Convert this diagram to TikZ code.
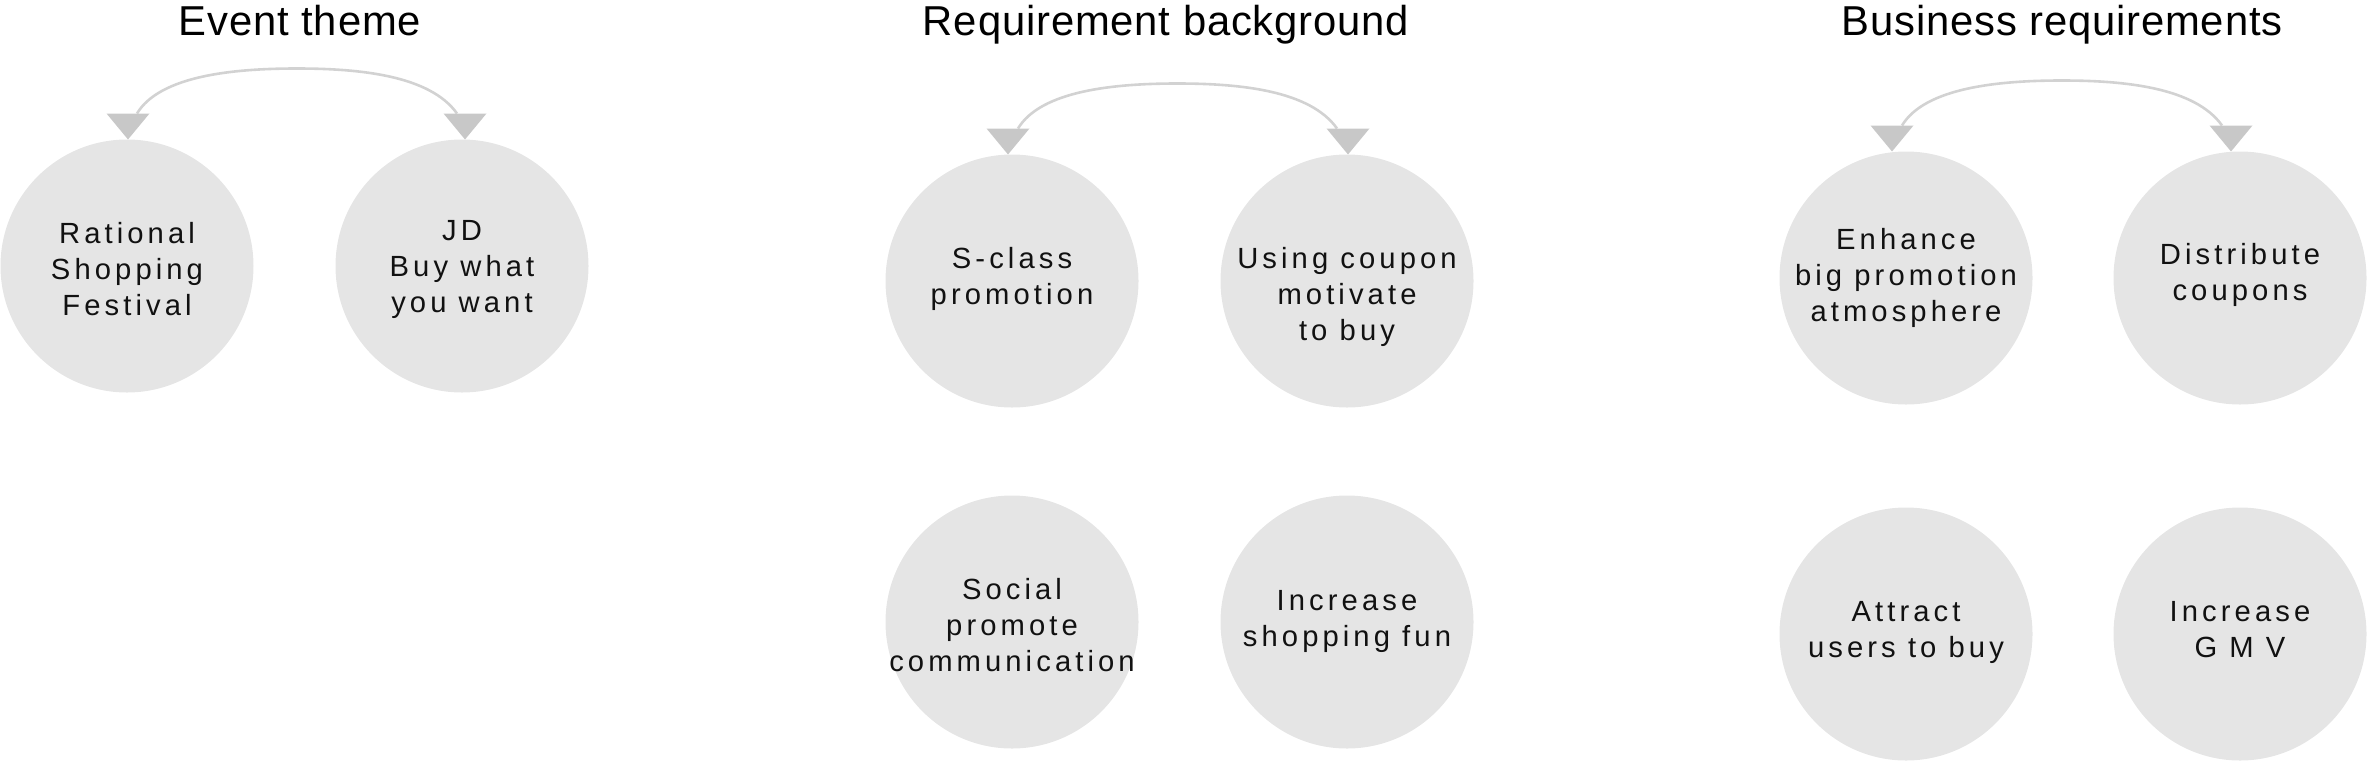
\documentclass[tikz,border=0pt]{standalone}
\usepackage{fontspec}
\setmainfont{Liberation Sans}
\newfontfamily\circfont[LetterSpace=14]{Liberation Sans}
\newfontfamily\titlefont[LetterSpace=2]{Liberation Sans}
\usetikzlibrary{calc}
\definecolor{circfill}{HTML}{E5E5E5}
\definecolor{trifill}{HTML}{C8C8C8}
\definecolor{curvecol}{HTML}{D2D2D2}
\definecolor{inkcol}{HTML}{111111}
\begin{document}
\begin{tikzpicture}[x=0.5pt,y=-0.5pt,
  circ/.style={circle, fill=circfill, minimum size=126.5pt, inner sep=0pt, outer sep=0pt},
  ctxt/.style={align=center, inner sep=0pt, text=inkcol, font=\circfont\fontsize{14.6}{18}\selectfont},
  ttl/.style={anchor=base, inner sep=0pt, text=black, font=\titlefont\fontsize{20.9}{24}\selectfont},
  tri/.style={fill=trifill},
  conn/.style={draw=curvecol, line width=1.3pt}]
\useasboundingbox (0,0) rectangle (2367,761);

% titles
\node[ttl] (T1) at (300,35) {Event theme};
\node[ttl] (T2) at (1166,35) {Requirement background};
\node[ttl] (T3) at (2062,35) {Business requirements};

% circles
\node[circ] (A1) at (127,266) {};
\node[circ] (A2) at (462,266) {};
\node[circ] (B1) at (1012,281) {};
\node[circ] (B2) at (1347,281) {};
\node[circ] (B3) at (1012,622) {};
\node[circ] (B4) at (1347,622) {};
\node[circ] (C1) at (1906,278) {};
\node[circ] (C2) at (2240,278) {};
\node[circ] (C3) at (1906,634) {};
\node[circ] (C4) at (2240,634) {};

% texts
\node[ctxt] (A1t) at ($(A1)+(0,3)$) {Rational\\Shopping\\Festival};
\node[ctxt] (A2t) at ($(A2)+(0,3)$) {JD\\Buy what\\you want};
\node[ctxt] (B1t) at ($(B1)+(0,-2)$) {S-class\\promotion};
\node[ctxt] (B2t) at ($(B2)+(0,16)$) {Using coupon\\motivate\\to buy};
\node[ctxt] (B3t) at ($(B3)+(0,3)$) {Social\\promote\\communication};
\node[ctxt] (B4t) at ($(B4)+(0,-1)$) {Increase\\shopping fun};
\node[ctxt] (C1t) at ($(C1)+(0,0)$) {Enhance\\big promotion\\atmosphere};
\node[ctxt] (C2t) at ($(C2)+(0,-3)$) {Distribute\\coupons};
\node[ctxt] (C3t) at ($(C3)+(0,-2)$) {Attract\\users to buy};
\node[ctxt] (C4t) at ($(C4)+(0,-4)$) {Increase\\G M V};

% arrow tips positions
\coordinate (tA1) at ($(A1.north)+(1,0)$);
\coordinate (tA2) at ($(A2.north)+(3,0)$);
\coordinate (tB1) at ($(B1.north)+(-4,0)$);
\coordinate (tB2) at ($(B2.north)+(1,0)$);
\coordinate (tC1) at ($(C1.north)+(-14,0)$);
\coordinate (tC2) at ($(C2.north)+(-9,0)$);

% curve ends
\coordinate (sA) at ($(tA1)+(9,-26)$);
\coordinate (eA) at ($(tA2)+(-8,-26)$);
\coordinate (pA) at ($(sA)!0.5!(eA)+(0,-45)$);
\coordinate (sB) at ($(tB1)+(10,-26)$);
\coordinate (eB) at ($(tB2)+(-11,-26)$);
\coordinate (pB) at ($(sB)!0.5!(eB)+(0,-45)$);
\coordinate (sC) at ($(tC1)+(10,-26)$);
\coordinate (eC) at ($(tC2)+(-9,-26)$);
\coordinate (pC) at ($(sC)!0.5!(eC)+(0,-45)$);

% connectors
\draw[conn] (sA) .. controls ($(sA)+(23,-38)$) and ($(pA)+(-63,0)$) .. (pA)
                 .. controls ($(pA)+(63,0)$) and ($(eA)+(-27,-38)$) .. (eA);
\draw[conn] (sB) .. controls ($(sB)+(23,-38)$) and ($(pB)+(-63,0)$) .. (pB)
                 .. controls ($(pB)+(63,0)$) and ($(eB)+(-27,-38)$) .. (eB);
\draw[conn] (sC) .. controls ($(sC)+(23,-38)$) and ($(pC)+(-63,0)$) .. (pC)
                 .. controls ($(pC)+(63,0)$) and ($(eC)+(-27,-38)$) .. (eC);

% arrowheads
\foreach \t in {tA1,tA2,tB1,tB2,tC1,tC2}{
  \fill[tri] (\t) -- ++(-21.5,-26) -- ++(43,0) -- cycle;
}
\end{tikzpicture}
\end{document}
